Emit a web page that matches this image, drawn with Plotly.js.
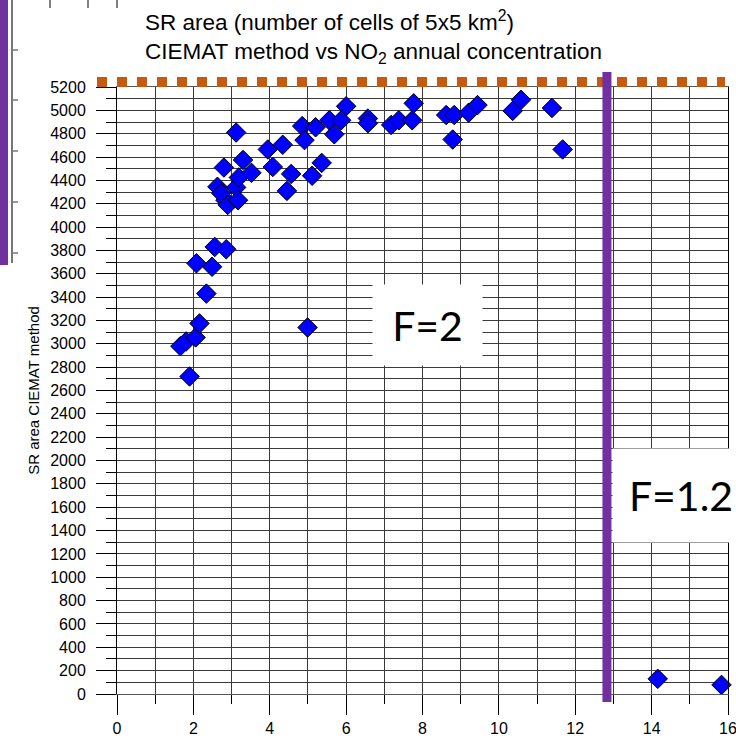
<!DOCTYPE html>
<html>
<head>
<meta charset="utf-8">
<script src="https://cdn.plot.ly/plotly-3.0.1.min.js"></script>
<style>html,body{margin:0;padding:0;background:#fff;}#chart{width:736px;height:743px;}</style>
</head>
<body>
<div id="chart"></div>
<script>
// NO2 annual concentration (x) and SR area, CIEMAT method (y)
const no2 = [1.66, 1.81, 1.90, 2.06, 2.16, 2.08, 2.34, 2.49, 2.56, 2.86,
             2.63, 2.73, 2.80, 2.84, 2.90, 3.12, 3.17, 3.19, 3.30, 3.52,
             3.12, 3.95, 4.08, 4.34, 4.56, 4.45, 4.85, 4.91, 5.20, 5.11,
             5.36, 4.99, 5.56, 5.69, 5.87, 6.00, 6.57, 6.57, 7.18, 7.38,
             7.73, 7.77, 8.62, 8.83, 8.79, 9.21, 9.44, 10.36, 10.58, 11.39,
             11.67, 14.16, 15.83];
const srArea = [2980, 3020, 2720, 3055, 3175, 3690, 3430, 3660, 3830, 3810,
                4345, 4290, 4510, 4230, 4190, 4340, 4230, 4425, 4575, 4465,
                4810, 4665, 4515, 4705, 4455, 4310, 4865, 4745, 4855, 4440,
                4550, 3140, 4915, 4795, 4915, 5035, 4930, 4890, 4875, 4915,
                4915, 5060, 4960, 4960, 4750, 4980, 5045, 4995, 5090, 5020,
                4665, 130, 78];
// reference levels
const splitNO2 = 12.83;       // purple vertical separator
const labelF2 = {x: 8.14, y: 3160, text: 'F=2'};
const labelF12 = {x: 14.76, y: 1700, text: 'F=1.2'};

const xRange = [0, 16.0001];
const yRange = [0, 5200];

const font = 'Arial, "Liberation Sans", sans-serif';
const gridC = '#3a3a3a';

const trace = {
  x: no2, y: srArea, type: 'scatter', mode: 'markers',
  marker: {symbol: 'diamond', size: 15, color: '#0000FF', line: {color: '#000', width: 1}},
  cliponaxis: false, hoverinfo: 'x+y'
};

// helper: px -> paper coords (plot area 117..728 x, 87..694 y)
const L = 117, R = 728, T = 87, B = 694;
const px = v => (v - L) / (R - L);
const py = v => (B - v) / (B - T);

const shapes = [
  // orange dashed top line
  {type: 'line', xref: 'paper', yref: 'paper', x0: px(97), x1: px(725), y0: py(82), y1: py(82),
   line: {color: '#C55A11', width: 10, dash: '10px,10px'}},
  // purple separator
  {type: 'line', xref: 'x', yref: 'paper', x0: splitNO2, x1: splitNO2, y0: py(702), y1: py(72),
   line: {color: '#7030A0', width: 9}},
  // left cropped remnants
  {type: 'rect', xref: 'paper', yref: 'paper', x0: px(0), x1: px(8), y0: py(265), y1: py(0),
   fillcolor: '#7030A0', line: {width: 0}},
  {type: 'line', xref: 'paper', yref: 'paper', x0: px(12), x1: px(12), y0: py(263), y1: py(0),
   line: {color: '#777', width: 2}},
];
[50, 100, 151, 202, 253].forEach(v => shapes.push(
  {type: 'line', xref: 'paper', yref: 'paper', x0: px(12), x1: px(18), y0: py(v), y1: py(v),
   line: {color: '#777', width: 1.5}}));
[50, 88, 117].forEach(v => shapes.push(
  {type: 'line', xref: 'paper', yref: 'paper', x0: px(v), x1: px(v), y0: py(0), y1: py(8),
   line: {color: '#555', width: 1.5}}));

const annotations = [
  {xref: 'x', yref: 'y', x: labelF2.x, y: labelF2.y, text: labelF2.text, showarrow: false,
   xanchor: 'center', yanchor: 'middle', width: 109, height: 80, bgcolor: '#fff', borderpad: 0,
   font: {family: 'Lato, "Noto Sans", sans-serif', size: 41, color: '#000'}},
  {xref: 'x', yref: 'y', x: labelF12.x, y: labelF12.y, text: labelF12.text, showarrow: false,
   xanchor: 'center', yanchor: 'middle', width: 136, height: 93, bgcolor: '#fff', borderpad: 0,
   font: {family: 'Lato, "Noto Sans", sans-serif', size: 41, color: '#000'}}
];

const layout = {
  width: 736, height: 743,
  margin: {l: L, r: 736 - R, t: T, b: 743 - B, pad: 0},
  paper_bgcolor: '#fff', plot_bgcolor: '#fff',
  showlegend: false,
  font: {family: font, color: '#000', size: 16},
  title: {
    text: 'SR area (number of cells of 5x5 km<sup>2</sup>)<br>CIEMAT method vs NO<sub>2</sub> annual concentration',
    x: px(145), xref: 'paper', xanchor: 'left', y: 1 - 30 / 743, yref: 'container', yanchor: 'top',
    font: {family: font, size: 22.5, color: '#000'}
  },
  xaxis: {
    range: xRange, dtick: 2, tick0: 0, ticks: 'outside', ticklen: 20, tickcolor: '#000', tickwidth: 1,
    showgrid: true, gridcolor: gridC, gridwidth: 1, zeroline: false,
    showline: true, linecolor: '#555', mirror: true, linewidth: 1,
    tickfont: {family: font, size: 16, color: '#000'}, ticklabeloverflow: 'allow',
    minor: {dtick: 1, ticks: 'outside', ticklen: 9, tickcolor: '#000', showgrid: true, gridcolor: gridC, gridwidth: 1},
    fixedrange: true
  },
  yaxis: {
    range: yRange, dtick: 200, tick0: 0, ticks: 'outside', ticklen: 20, tickcolor: '#000', tickwidth: 1,
    showgrid: true, gridcolor: gridC, gridwidth: 1, zeroline: false,
    showline: true, linecolor: '#000', mirror: true, linewidth: 1,
    tickfont: {family: font, size: 16, color: '#000'}, ticklabelstandoff: 7,
    minor: {dtick: 100, ticks: 'outside', ticklen: 10, tickcolor: '#000', showgrid: true, gridcolor: gridC, gridwidth: 1},
    title: {text: 'SR area CIEMAT method', standoff: 6, font: {family: font, size: 15, color: '#000'}},
    fixedrange: true
  },
  shapes: shapes,
  annotations: annotations
};

Plotly.newPlot('chart', [trace], layout, {displayModeBar: false, staticPlot: true});
</script>
</body>
</html>
